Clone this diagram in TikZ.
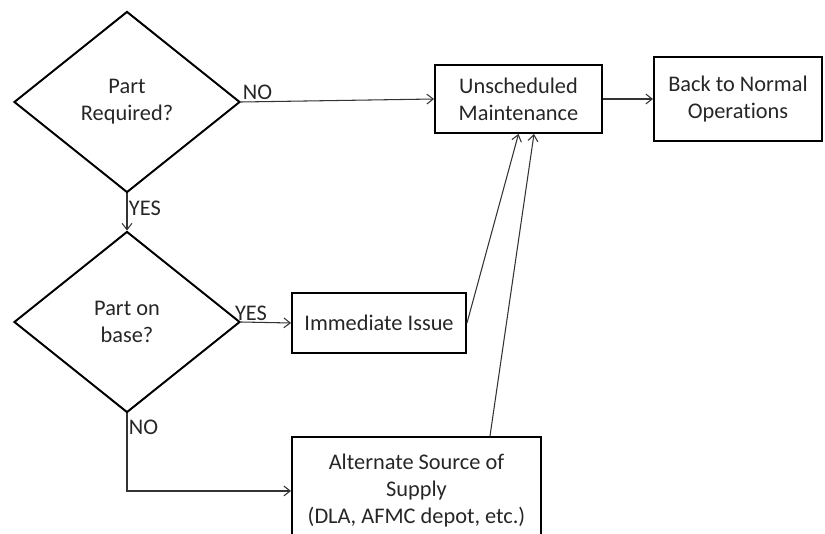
\documentclass[tikz,border=0pt]{standalone}
\usepackage{fontspec}
\setmainfont{Carlito}[Ligatures={NoCommon}]
\usepackage{tikz}
\usetikzlibrary{arrows.meta}
\usetikzlibrary{shapes.geometric}
\usetikzlibrary{positioning}
\usetikzlibrary{calc}

\tikzset{
	decision/.style={draw, line width=1.4pt, diamond, inner sep=0pt, minimum width=5.65cm, minimum height=4.525cm, align=center},
	stepbox/.style={draw, line width=1.4pt, rectangle, inner sep=0pt, align=center},
	flow/.style={->, draw=black!80, line width=0.75pt},
	lbl/.style={inner sep=1pt, text=black!85}
}

\begin{document}
\begin{tikzpicture}[>={Straight Barb[length=4.5pt, width=7pt]}, font=\fontsize{15.9}{19.2}\selectfont, text=black!85]
		%frame
		\useasboundingbox (0,0) rectangle (20.625,13.325);

		%coordinates
		\coordinate (DoneC)  at (3.175,10.775);
		\coordinate (DtwoC)  at (3.175,5.275);
		\coordinate (UMC)    at (12.9625,10.85);
		\coordinate (BNC)    at (18.45,10.85);
		\coordinate (IIC)    at (9.475,5.25);
		\coordinate (ASN)    at (10.4125,2.425);

		%nodes
		\node[decision] (reqd) at (DoneC) {Part\\Required?};
		\node[decision] (base) at (DtwoC) {Part on\\base?};
		\node[stepbox, minimum width=4.175cm, minimum height=1.7cm] (unsch) at (UMC) {Unscheduled\\Maintenance};
		\node[stepbox, minimum width=4.2cm, minimum height=2.1cm] (normal) at (BNC) {Back to Normal\\Operations};
		\node[stepbox, minimum width=4.35cm, minimum height=1.5cm] (issue) at (IIC) {Immediate Issue};
		\node[stepbox, minimum width=6.225cm, minimum height=2.7cm, anchor=north] (altsrc) at (ASN) {Alternate Source of\\Supply\\(DLA, AFMC depot, etc.)};

		\draw[flow] (reqd.east) -- node[lbl, pos=0, above right]{NO} (unsch.west);
		\draw[flow] (reqd.south) -- node[lbl, pos=0.4, right]{YES} (base.north);
		\draw[flow] (base.east) -- node[lbl, pos=0.2, above]{YES} (issue.west);
		\draw[flow] (base.south) |- node[lbl, pos=0.09, right]{NO} (altsrc.west);
		\draw[flow] (issue.east) -- (unsch.south);
		\draw[flow] ($(altsrc.north) + (1.8375,0)$) -- ($(unsch.south) + (0.3875,0)$);
		\draw[flow] (unsch.east) -- (normal.west);
		\end{tikzpicture}
\end{document}
